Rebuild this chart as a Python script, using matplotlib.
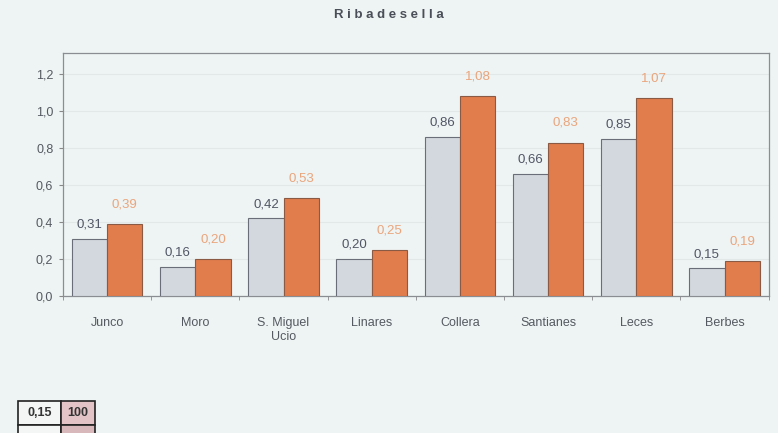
import matplotlib
matplotlib.use("Agg")
import matplotlib.pyplot as plt
from matplotlib.patches import Rectangle
import numpy as np

plt.rcParams['font.family'] = ['Liberation Sans', 'DejaVu Sans']

categories = ["Junco", "Moro", "S. Miguel\nUcio", "Linares", "Collera",
              "Santianes", "Leces", "Berbes"]
serie_gris = [0.31, 0.16, 0.42, 0.20, 0.86, 0.66, 0.85, 0.15]
serie_naranja = [0.39, 0.20, 0.53, 0.25, 1.08, 0.83, 1.07, 0.19]
yticks = [0.0, 0.2, 0.4, 0.6, 0.8, 1.0, 1.2]

def coma(v):
    return f"{v:.2f}".replace(".", ",")

bg = "#eef3f3"
fig = plt.figure(figsize=(7.78, 4.33), dpi=100, facecolor=bg)
ax = fig.add_axes([0.081, 0.316, 0.907, 0.562], facecolor=bg)

x = np.arange(len(categories))
w = 0.4
ax.bar(x - w / 2, serie_gris, w, color="#d3d7de", edgecolor="#6a6e78", linewidth=0.8, zorder=3)
ax.bar(x + w / 2, serie_naranja, w, color="#e17c4d", edgecolor="#8a5a44", linewidth=0.8, zorder=3)

for xi, v in zip(x, serie_gris):
    ax.annotate(coma(v), (xi - w / 2, v), xytext=(0, 6), textcoords="offset points",
                ha="center", va="bottom", fontsize=9.5, color="#515666")
for xi, v in zip(x, serie_naranja):
    ax.annotate(coma(v), (xi + w / 2, v), xytext=(0, 10), textcoords="offset points",
                ha="center", va="bottom", fontsize=9.5, color="#eaa57c")

ax.set_xlim(-0.5, len(categories) - 0.5)
ax.set_ylim(0, 1.315)
ax.set_yticks(yticks)
ax.set_yticklabels([f"{t:.1f}".replace(".", ",") for t in yticks], fontsize=9, color="#555a62")
ax.yaxis.grid(True, color="#e2e8e8", linewidth=0.8, zorder=0)

ax.set_xticks(x)
ax.set_xticklabels(categories, fontsize=9, color="#555a62")
ax.tick_params(axis="x", length=0, pad=15)
ax.set_xticks(np.arange(len(categories) + 1) - 0.5, minor=True)
ax.tick_params(axis="x", which="minor", length=3, color="#888")
ax.tick_params(axis="y", length=3, color="#888", pad=4)

for s in ax.spines.values():
    s.set_color("#8a8e92")
    s.set_linewidth(0.9)

fig.text(0.5, 0.966, "R i b a d e s e l l a", ha="center", va="center", fontsize=9.5,
         fontweight="bold", color="#4a4e58")

# small summary table at the bottom left
def celda(x0, y0, wpx, hpx, txt, fc):
    W, H = 778, 433
    fig.patches.append(Rectangle((x0 / W, 1 - (y0 + hpx) / H), wpx / W, hpx / H,
                                 transform=fig.transFigure, facecolor=fc,
                                 edgecolor="#222222", linewidth=1.2))
    if txt:
        fig.text((x0 + wpx / 2) / W, 1 - (y0 + hpx / 2) / H, txt, ha="center", va="center",
                 fontsize=9, fontweight="bold", color="#333333")

celda(18, 401, 43, 24, "0,15", "#f4f6f6")
celda(61, 401, 34, 24, "100", "#e3c3c6")
celda(18, 425, 43, 12, "", "#f4f6f6")
celda(61, 425, 34, 12, "", "#d9b8bb")

fig.savefig("out.png", dpi=100, facecolor=bg)
